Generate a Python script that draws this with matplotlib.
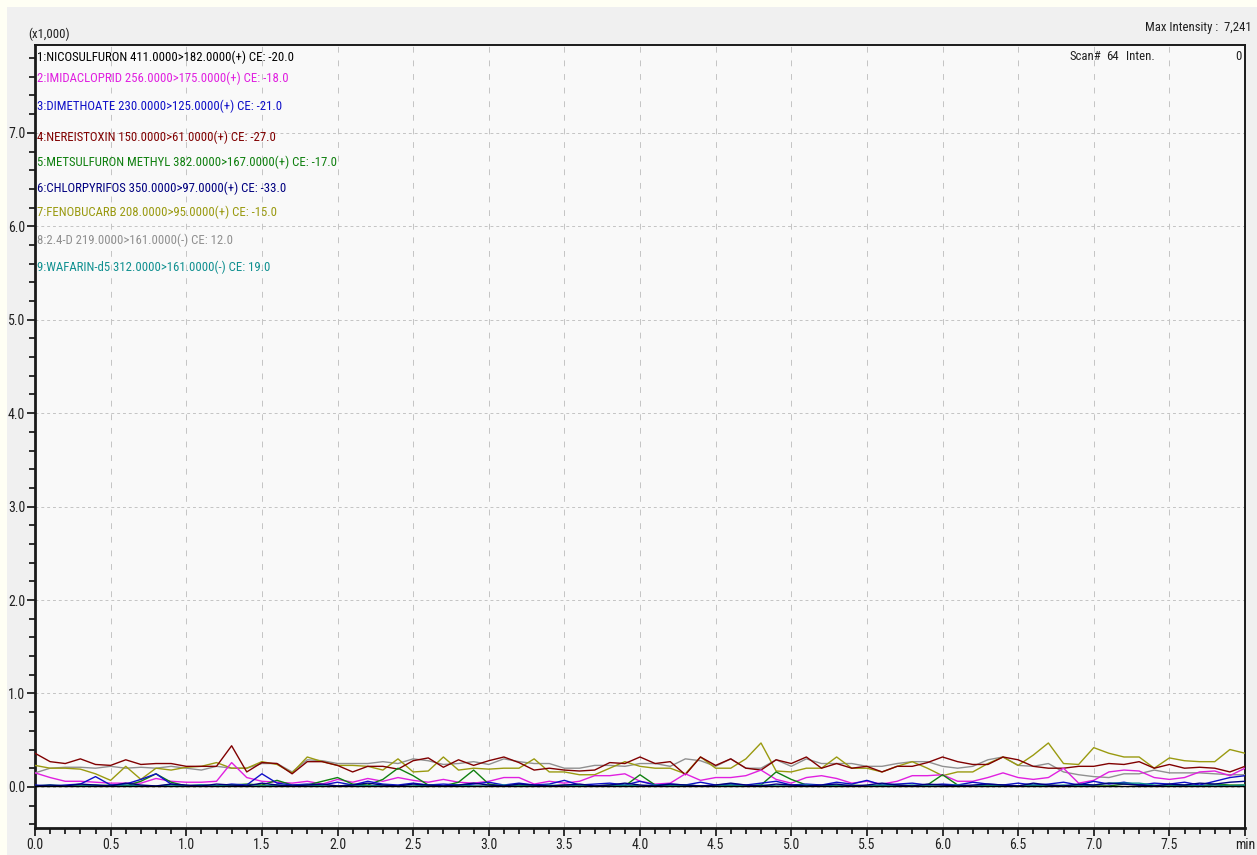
import matplotlib
matplotlib.use("Agg")
from matplotlib import pyplot as plt
from matplotlib import font_manager
from matplotlib.patches import Rectangle
from matplotlib.ticker import MultipleLocator, FixedLocator, FixedFormatter
import numpy as np

# dar bir yazi tipi sec, yoksa normal Liberation Sans
mevcut = {f.name for f in font_manager.fontManager.ttflist}
dar_fontlar = [f.name for f in font_manager.fontManager.ttflist
               if f.stretch in ('condensed', 'semi-condensed', 'extra-condensed')]
yazi_tipi = 'Liberation Sans'
for aday in ['Liberation Sans Narrow', 'Arial Narrow', 'Roboto Condensed',
             'Open Sans Condensed', 'DejaVu Sans Condensed']:
    if aday in mevcut:
        yazi_tipi = aday
        break
else:
    if dar_fontlar:
        yazi_tipi = dar_fontlar[0]
plt.rcParams['font.family'] = [yazi_tipi, 'DejaVu Sans']
plt.rcParams['font.stretch'] = 'condensed'

# retention time axis (min), one scan per 0.1 min
zaman = np.round(np.arange(0, 8.01, 0.1), 1)

# intensities (x1,000)
nikosulfuron = [0.005]*81
imidakloprid = [0.15, 0.10, 0.06, 0.06, 0.05, 0.04, 0.04, 0.04, 0.09, 0.06,
                0.05, 0.05, 0.06, 0.26, 0.10, 0.06, 0.05, 0.04, 0.06, 0.03,
                0.08, 0.05, 0.09, 0.06, 0.10, 0.07, 0.05, 0.08, 0.05, 0.04,
                0.06, 0.10, 0.10, 0.03, 0.06, 0.04, 0.06, 0.12, 0.12, 0.14,
                0.06, 0.03, 0.04, 0.14, 0.07, 0.10, 0.10, 0.12, 0.18, 0.08,
                0.04, 0.10, 0.12, 0.09, 0.04, 0.06, 0.03, 0.06, 0.12, 0.12,
                0.13, 0.06, 0.06, 0.10, 0.15, 0.10, 0.08, 0.10, 0.20, 0.04,
                0.07, 0.16, 0.18, 0.17, 0.10, 0.08, 0.10, 0.16, 0.17, 0.12, 0.20]
dimetoat = [0.02, 0.01, 0.02, 0.03, 0.11, 0.02, 0.03, 0.08, 0.14, 0.03,
            0.01, 0.02, 0.01, 0.03, 0.02, 0.14, 0.04, 0.02, 0.03, 0.02,
            0.05, 0.02, 0.06, 0.03, 0.02, 0.04, 0.02, 0.03, 0.02, 0.03,
            0.05, 0.02, 0.04, 0.02, 0.03, 0.07, 0.02, 0.03, 0.04, 0.02,
            0.06, 0.02, 0.03, 0.02, 0.05, 0.02, 0.03, 0.02, 0.04, 0.06,
            0.02, 0.03, 0.02, 0.05, 0.03, 0.07, 0.02, 0.03, 0.04, 0.02,
            0.03, 0.02, 0.05, 0.03, 0.02, 0.04, 0.02, 0.03, 0.05, 0.02,
            0.06, 0.03, 0.05, 0.02, 0.04, 0.03, 0.05, 0.02, 0.06, 0.10, 0.12]
nereistoksin = [0.36, 0.27, 0.25, 0.30, 0.24, 0.23, 0.29, 0.24, 0.25, 0.25,
                0.22, 0.22, 0.22, 0.44, 0.16, 0.26, 0.25, 0.14, 0.27, 0.27,
                0.23, 0.16, 0.22, 0.22, 0.19, 0.28, 0.31, 0.21, 0.29, 0.23,
                0.28, 0.32, 0.26, 0.18, 0.20, 0.18, 0.17, 0.18, 0.26, 0.25,
                0.32, 0.25, 0.27, 0.13, 0.32, 0.23, 0.30, 0.20, 0.18, 0.29,
                0.25, 0.32, 0.20, 0.25, 0.20, 0.22, 0.16, 0.22, 0.22, 0.26,
                0.32, 0.27, 0.24, 0.24, 0.32, 0.29, 0.22, 0.20, 0.20, 0.22,
                0.22, 0.25, 0.24, 0.27, 0.20, 0.24, 0.20, 0.21, 0.20, 0.16, 0.22]
metsulfuron = [0.01, 0.01, 0.01, 0.01, 0.01, 0.02, 0.01, 0.06, 0.14, 0.05,
               0.01, 0.02, 0.01, 0.02, 0.03, 0.02, 0.07, 0.02, 0.02, 0.06,
               0.10, 0.03, 0.02, 0.08, 0.20, 0.12, 0.02, 0.01, 0.05, 0.18,
               0.03, 0.01, 0.02, 0.01, 0.01, 0.02, 0.01, 0.01, 0.02, 0.01,
               0.13, 0.02, 0.01, 0.02, 0.01, 0.01, 0.02, 0.01, 0.02, 0.16,
               0.08, 0.02, 0.01, 0.01, 0.02, 0.01, 0.01, 0.02, 0.01, 0.02,
               0.13, 0.02, 0.01, 0.01, 0.02, 0.01, 0.01, 0.02, 0.01, 0.02,
               0.01, 0.01, 0.03, 0.02, 0.01, 0.01, 0.02, 0.01, 0.03, 0.02, 0.02]
klorpirifos = [0.01, 0.02, 0.01, 0.03, 0.02, 0.01, 0.04, 0.02, 0.01, 0.03,
               0.02, 0.01, 0.03, 0.02, 0.01, 0.04, 0.02, 0.01, 0.02, 0.03,
               0.01, 0.02, 0.04, 0.02, 0.01, 0.03, 0.02, 0.01, 0.02, 0.04,
               0.02, 0.01, 0.03, 0.02, 0.01, 0.02, 0.03, 0.01, 0.02, 0.04,
               0.02, 0.01, 0.03, 0.02, 0.01, 0.02, 0.04, 0.02, 0.01, 0.03,
               0.02, 0.01, 0.02, 0.03, 0.01, 0.02, 0.04, 0.02, 0.01, 0.03,
               0.02, 0.01, 0.02, 0.03, 0.02, 0.01, 0.04, 0.02, 0.01, 0.03,
               0.02, 0.04, 0.03, 0.02, 0.01, 0.03, 0.02, 0.04, 0.03, 0.05, 0.06]
fenobukarb = [0.23, 0.20, 0.20, 0.19, 0.14, 0.07, 0.22, 0.08, 0.20, 0.18,
              0.21, 0.22, 0.26, 0.20, 0.20, 0.27, 0.24, 0.15, 0.32, 0.27,
              0.23, 0.23, 0.22, 0.18, 0.30, 0.16, 0.17, 0.32, 0.18, 0.20,
              0.19, 0.20, 0.20, 0.30, 0.16, 0.16, 0.13, 0.13, 0.20, 0.27,
              0.22, 0.20, 0.20, 0.14, 0.32, 0.20, 0.20, 0.30, 0.47, 0.17,
              0.16, 0.20, 0.20, 0.32, 0.20, 0.20, 0.16, 0.22, 0.27, 0.20,
              0.12, 0.16, 0.16, 0.25, 0.32, 0.23, 0.34, 0.47, 0.25, 0.24,
              0.42, 0.36, 0.32, 0.32, 0.20, 0.31, 0.28, 0.27, 0.27, 0.40, 0.36]
d24 = [0.15, 0.20, 0.21, 0.21, 0.20, 0.22, 0.20, 0.21, 0.20, 0.22,
       0.20, 0.18, 0.22, 0.20, 0.20, 0.25, 0.25, 0.16, 0.29, 0.28,
       0.25, 0.25, 0.25, 0.27, 0.25, 0.30, 0.28, 0.24, 0.25, 0.27,
       0.24, 0.30, 0.27, 0.25, 0.25, 0.20, 0.20, 0.23, 0.23, 0.22,
       0.25, 0.25, 0.22, 0.30, 0.28, 0.22, 0.30, 0.20, 0.20, 0.29,
       0.22, 0.30, 0.25, 0.25, 0.25, 0.22, 0.22, 0.25, 0.27, 0.27,
       0.22, 0.20, 0.22, 0.29, 0.32, 0.23, 0.22, 0.25, 0.16, 0.13,
       0.11, 0.10, 0.14, 0.14, 0.18, 0.15, 0.15, 0.15, 0.14, 0.13, 0.13]
varfarin = [0.01, 0.02, 0.01, 0.01, 0.02, 0.01, 0.02, 0.01, 0.01, 0.02,
            0.01, 0.02, 0.01, 0.02, 0.01, 0.01, 0.02, 0.01, 0.02, 0.01,
            0.01, 0.02, 0.01, 0.02, 0.01, 0.01, 0.02, 0.01, 0.02, 0.01,
            0.01, 0.02, 0.01, 0.01, 0.02, 0.01, 0.02, 0.01, 0.01, 0.02,
            0.01, 0.02, 0.01, 0.02, 0.01, 0.01, 0.02, 0.01, 0.02, 0.01,
            0.01, 0.02, 0.01, 0.02, 0.01, 0.01, 0.02, 0.01, 0.02, 0.01,
            0.01, 0.02, 0.01, 0.02, 0.01, 0.01, 0.02, 0.01, 0.02, 0.01,
            0.02, 0.04, 0.04, 0.04, 0.02, 0.01, 0.02, 0.01, 0.02, 0.01, 0.02]

seriler = [nikosulfuron, imidakloprid, dimetoat, nereistoksin, metsulfuron,
           klorpirifos, fenobukarb, d24, varfarin]
etiketler = ['1:NICOSULFURON 411.0000>182.0000(+) CE: -20.0',
             '2:IMIDACLOPRID 256.0000>175.0000(+) CE: -18.0',
             '3:DIMETHOATE 230.0000>125.0000(+) CE: -21.0',
             '4:NEREISTOXIN 150.0000>61.0000(+) CE: -27.0',
             '5:METSULFURON METHYL 382.0000>167.0000(+) CE: -17.0',
             '6:CHLORPYRIFOS 350.0000>97.0000(+) CE: -33.0',
             '7:FENOBUCARB 208.0000>95.0000(+) CE: -15.0',
             '8:2.4-D 219.0000>161.0000(-) CE: 12.0',
             '9:WAFARIN-d5 312.0000>161.0000(-) CE: 19.0']
renkler = ['#000000', '#e020e0', '#1010c8', '#800000', '#108010',
           '#000080', '#9a9a10', '#909090', '#109090']
etiket_y = [57, 78, 106, 137, 162, 188, 212, 240, 267]
yazi_boyu = 9.2

fig = plt.figure(figsize=(12.57, 8.55), dpi=100)
fig.patch.set_facecolor('#fffff4')
fig.patches.append(Rectangle((7/1257, 0), 1, 1 - 7/855, transform=fig.transFigure,
                             facecolor='#f0f0f0', edgecolor='none', zorder=-10))

ax = fig.add_axes([35/1257, 1 - 828/855, 1210/1257, 783/855])
ax.set_facecolor('#f9f9f9')

# cizim sirasi: alttakiler once
for i in [7, 6, 3, 1, 4, 2, 8, 5, 0]:
    ax.plot(zaman, seriler[i], color=renkler[i], linewidth=1.0,
            zorder=3 if i != 0 else 4)

ax.set_xlim(0, 8.0)
ax.set_ylim(-0.44, 7.94)

ax.xaxis.set_major_locator(FixedLocator(np.arange(0, 8.01, 0.5)))
ax.xaxis.set_major_formatter(FixedFormatter(
    ['%.1f' % v for v in np.arange(0, 7.51, 0.5)] + ['min']))
ax.xaxis.set_minor_locator(MultipleLocator(0.1))
ax.yaxis.set_major_locator(FixedLocator(np.arange(0, 7.01, 1.0)))
ax.yaxis.set_major_formatter(FixedFormatter(['%.1f' % v for v in range(8)]))
ax.yaxis.set_minor_locator(MultipleLocator(0.2))

ax.tick_params(which='major', direction='out', length=6, width=1.3,
               labelsize=10, pad=1, colors='#202020')
ax.tick_params(which='minor', direction='out', length=4, width=1.3,
               colors='#202020')

ax.xaxis.grid(True, which='major', color='#c4c4c4', linestyle=(0, (6, 8)),
              linewidth=0.7)
ax.yaxis.grid(True, which='major', color='#c4c4c4', linestyle=(0, (3, 3)),
              linewidth=0.7)

for s in ['left', 'bottom']:
    ax.spines[s].set_linewidth(2.0)
for s in ['top', 'right']:
    ax.spines[s].set_linewidth(1.4)
for s in ax.spines.values():
    s.set_color('#1a1a1a')

# kanal etiketleri
for txt, renk, yc in zip(etiketler, renkler, etiket_y):
    fig.text(37/1257, 1 - yc/855, txt, color=renk, fontsize=yazi_boyu,
             va='center', ha='left')

fig.text(28/1257, 1 - 34/855, '(x1,000)', fontsize=yazi_boyu, va='center',
         color='#202020')
fig.text(1252/1257, 1 - 28/855, 'Max Intensity :  7,241', fontsize=yazi_boyu,
         va='center', ha='right', color='#202020')
fig.text(1070/1257, 1 - 56/855, 'Scan#', fontsize=yazi_boyu, va='center',
         color='#202020')
fig.text(1119/1257, 1 - 56/855, '64', fontsize=yazi_boyu, va='center',
         ha='right', color='#202020')
fig.text(1126/1257, 1 - 56/855, 'Inten.', fontsize=yazi_boyu, va='center',
         color='#202020')
fig.text(1242/1257, 1 - 56/855, '0', fontsize=yazi_boyu, va='center',
         ha='right', color='#202020')

plt.savefig('out.png', dpi=100, facecolor=fig.get_facecolor())
